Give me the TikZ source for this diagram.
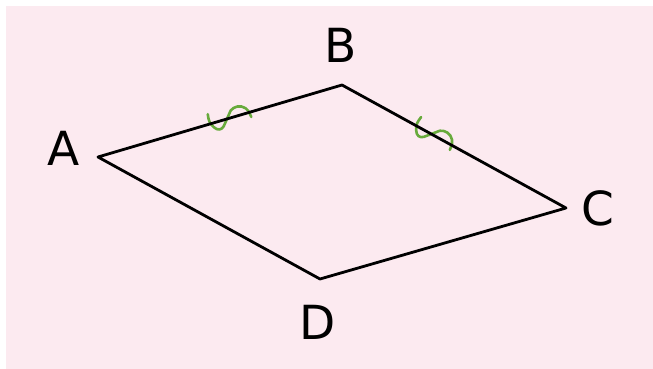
\documentclass[tikz,border=0pt]{standalone}
\usepackage{fontspec}
\setmainfont{DejaVu Sans}
\usetikzlibrary{positioning}

\definecolor{bgpink}{RGB}{252,234,240}
\definecolor{markgreen}{RGB}{104,170,60}

\tikzset{
  side/.style={draw=black, line width=2.8pt, line join=round},
  vlabel/.style={inner sep=0pt, font=\fontsize{47}{47}\selectfont},
  anglemark/.pic={
    \draw[markgreen, line width=2.6pt, line cap=round, line join=round]
      (-20,-10) .. controls (-21,-2) .. (-18,4)
      .. controls (-15,9) and (-11,9) .. (-8,6) -- (3,-7)
      .. controls (7,-10) and (14,-10) .. (18,-5)
      .. controls (20,-2) .. (21,5);
  }
}

\begin{document}
\begin{tikzpicture}[x=1pt, y=-1pt]
\useasboundingbox (0,0) rectangle (653,369);
\fill[bgpink] (6,6) rectangle (670,390);

% Vertices
\coordinate (A) at (98,157);
\coordinate (B) at (342,85);
\coordinate (C) at (566,208);
\coordinate (D) at (320,279);

% Marks
\path (A) -- (B) pic[pos=0.54, sloped] {anglemark};
\path (B) -- (C) pic[pos=0.41, sloped] {anglemark};

% Sides
\draw[side] (A) -- (B) -- (C) -- (D) -- cycle;

% Labels
\node[vlabel] (labA) at (64,148) {A};
\node[vlabel] (labB) at (341,45) {B};
\node[vlabel] (labC) at (598,208) {C};
\node[vlabel] (labD) at (318,322) {D};
\end{tikzpicture}
\end{document}
